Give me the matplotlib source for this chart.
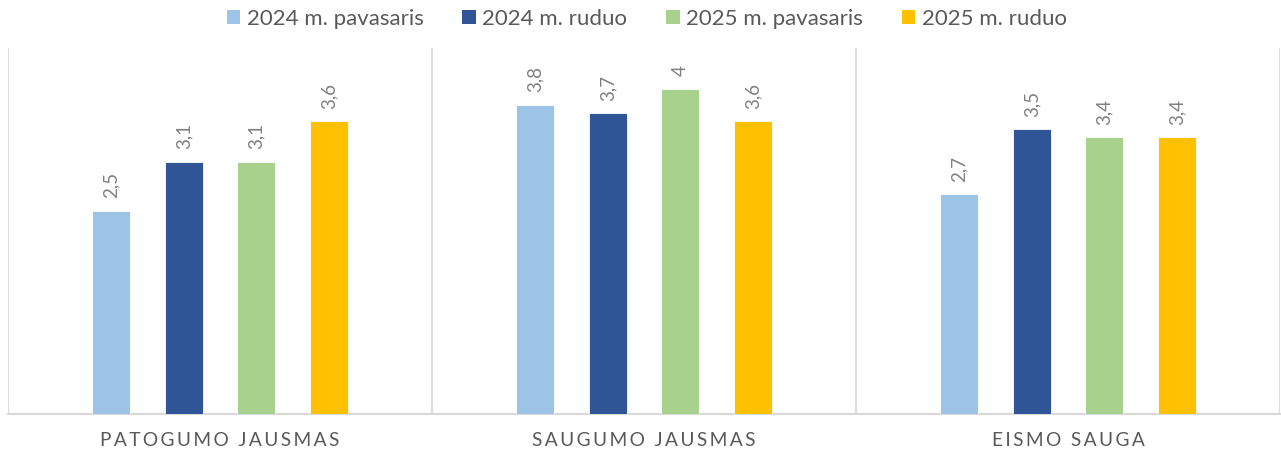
import numpy as np
import matplotlib
matplotlib.use("Agg")
import matplotlib.pyplot as plt
from matplotlib.patches import Patch

plt.rcParams['font.family'] = ['Lato', 'DejaVu Sans']

categories = ["PATOGUMO JAUSMAS", "SAUGUMO JAUSMAS", "EISMO SAUGA"]
series_names = ["2024 m. pavasaris", "2024 m. ruduo", "2025 m. pavasaris", "2025 m. ruduo"]
values = [
    [2.5, 3.8, 2.7],
    [3.1, 3.7, 3.5],
    [3.1, 4.0, 3.4],
    [3.6, 3.6, 3.4],
]
colors = ["#9DC3E6", "#2F5597", "#A9D18E", "#FFC000"]
text_color = "#595959"
line_color = "#D9D9D9"

fig = plt.figure(figsize=(12.81, 4.53), dpi=100)
ax = fig.add_axes([8 / 1281, (453 - 414) / 453, 1272 / 1281, (414 - 48) / 453])

x = np.arange(len(categories))
bar_w = 38 / 424.5
step = 72.5 / 424.5

for i, (name, vals) in enumerate(zip(series_names, values)):
    pos = x + (i - 1.5) * step
    ax.bar(pos, vals, width=bar_w, color=colors[i], edgecolor="white",
           linewidth=0.6, label=name, zorder=3)
    for px, v in zip(pos, vals):
        lbl = ("%g" % v).replace(".", ",")
        ax.annotate(lbl, (px, v), xytext=(0, 9), textcoords="offset points",
                    rotation=90, ha="center", va="bottom", fontsize=13.5,
                    color="#808080")

ax.set_xlim(-0.5, len(categories) - 0.5)
ax.set_ylim(0, 4.5)
ax.set_yticks([])
ax.set_xticks([])
for sp in ["top", "right", "left"]:
    ax.spines[sp].set_visible(False)
ax.spines["bottom"].set_color(line_color)
ax.spines["bottom"].set_linewidth(1.5)

for b in np.arange(-0.5, len(categories), 1.0):
    ax.axvline(b, color=line_color, linewidth=1.3, zorder=1)

for xi, cat in enumerate(categories):
    spaced = "\u2009".join(cat)
    ax.text(xi, -27 / 366, spaced, transform=ax.get_xaxis_transform(),
            ha="center", va="center", fontsize=13.8, color=text_color)

handles = [Patch(facecolor=c, edgecolor="none") for c in colors]
fig.legend(handles, series_names, loc="center", bbox_to_anchor=(0.505, 1 - 19 / 453),
           ncol=4, frameon=False, fontsize=16, labelcolor=text_color,
           handlelength=0.6, handleheight=0.6, handletextpad=0.3, columnspacing=1.75)

fig.savefig("out.png", dpi=100)
